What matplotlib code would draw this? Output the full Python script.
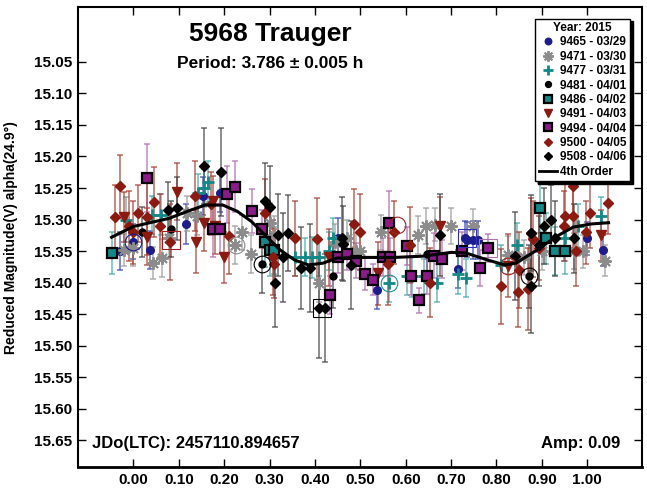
import matplotlib
matplotlib.use("Agg")
import matplotlib.pyplot as plt
from matplotlib.lines import Line2D

plt.rcParams['font.family'] = ['Liberation Sans', 'DejaVu Sans']
plt.rcParams['font.weight'] = 'bold'

# ---------------------------
# data read off the lightcurve
# ---------------------------
s9465_ph = [-0.030, 0.000, 0.037, 0.116, 0.153, 0.190, 0.450, 0.537, 0.715, 0.730, 0.734, 0.748, 0.760, 0.999, 1.035]
s9465_mag = [15.350, 15.335, 15.348, 15.307, 15.262, 15.258, 15.330, 15.411, 15.378, 15.330, 15.332, 15.332, 15.332, 15.330, 15.349]
s9465_err = [0.030, 0.028, 0.030, 0.032, 0.030, 0.030, 0.032, 0.030, 0.030, 0.028, 0.028, 0.030, 0.030, 0.026, 0.024]

s9471_ph = [-0.020, 0.000, 0.043, 0.063, 0.078, 0.118, 0.140, 0.223, 0.240, 0.260, 0.300, 0.310, 0.410, 0.445,
            0.470, 0.490, 0.500, 0.546, 0.627, 0.645, 0.664, 0.700, 0.748, 0.826, 0.860, 0.900, 0.970, 0.990, 1.040]
s9471_mag = [15.348, 15.345, 15.369, 15.361, 15.330, 15.290, 15.295, 15.340, 15.320, 15.355, 15.306, 15.324, 15.400, 15.335,
             15.330, 15.350, 15.350, 15.320, 15.325, 15.310, 15.308, 15.310, 15.310, 15.356, 15.360, 15.350, 15.350, 15.350, 15.365]
s9471_err = [0.025, 0.028, 0.025, 0.030, 0.030, 0.028, 0.030, 0.030, 0.028, 0.030, 0.032, 0.030, 0.030, 0.028,
             0.030, 0.028, 0.030, 0.028, 0.030, 0.028, 0.026, 0.028, 0.026, 0.030, 0.028, 0.030, 0.028, 0.026, 0.024]

s9477_ph = [-0.016, 0.040, 0.060, 0.142, 0.155, 0.165, 0.356, 0.378, 0.393, 0.410, 0.430, 0.440,
            0.564, 0.602, 0.613, 0.640, 0.670, 0.715, 0.733, 0.810, 0.846, 0.950, 0.980, 1.030]
s9477_mag = [15.300, 15.293, 15.292, 15.258, 15.250, 15.240, 15.360, 15.360, 15.360, 15.360, 15.350, 15.330,
             15.400, 15.390, 15.390, 15.390, 15.400, 15.386, 15.392, 15.372, 15.340, 15.330, 15.310, 15.295]
s9477_err = [0.035, 0.030, 0.032, 0.030, 0.030, 0.032, 0.030, 0.030, 0.032, 0.030, 0.030, 0.032,
             0.030, 0.030, 0.032, 0.028, 0.030, 0.032, 0.030, 0.032, 0.034, 0.036, 0.035, 0.030]

s9481_ph = [0.020, 0.083, 0.283, 0.440, 0.646, 0.872]
s9481_mag = [15.320, 15.315, 15.371, 15.390, 15.355, 15.390]
s9481_err = [0.040, 0.045, 0.045, 0.050, 0.045, 0.050]

s9486_ph = [-0.048, 0.290, 0.300, 0.310, 0.896, 0.910, 0.930, 0.950]
s9486_mag = [15.353, 15.335, 15.349, 15.349, 15.282, 15.330, 15.350, 15.350]
s9486_err = [0.034, 0.040, 0.040, 0.038, 0.040, 0.040, 0.038, 0.036]

s9491_ph = [-0.020, 0.030, 0.097, 0.138, 0.155, 0.176, 0.180, 0.200, 0.430, 0.540, 0.675, 0.826, 1.031]
s9491_mag = [15.296, 15.327, 15.256, 15.335, 15.305, 15.271, 15.310, 15.360, 15.360, 15.385, 15.310, 15.373, 15.325]
s9491_err = [0.040, 0.045, 0.045, 0.050, 0.045, 0.040, 0.045, 0.040, 0.045, 0.050, 0.045, 0.050, 0.040]

s9494_ph = [0.030, 0.175, 0.190, 0.206, 0.223, 0.261, 0.283, 0.433, 0.450, 0.470, 0.490, 0.510, 0.527,
            0.550, 0.564, 0.565, 0.602, 0.612, 0.629, 0.648, 0.663, 0.680, 0.723, 0.764, 0.782]
s9494_mag = [15.234, 15.315, 15.315, 15.260, 15.248, 15.286, 15.315, 15.419, 15.360, 15.355, 15.365, 15.386, 15.395,
             15.360, 15.305, 15.360, 15.342, 15.390, 15.428, 15.390, 15.357, 15.363, 15.350, 15.377, 15.345]
s9494_err = [0.054, 0.045, 0.040, 0.045, 0.040, 0.035, 0.030, 0.030, 0.025, 0.025, 0.028, 0.025, 0.025,
             0.030, 0.050, 0.030, 0.030, 0.030, 0.020, 0.028, 0.035, 0.030, 0.030, 0.028, 0.022]

s9500_ph = [-0.040, -0.030, -0.010, 0.000, 0.010, 0.030, 0.046, 0.058, 0.080, 0.136, 0.170, 0.210, 0.290,
            0.308, 0.310, 0.357, 0.404, 0.486, 0.500, 0.560, 0.575, 0.610, 0.654, 0.810, 0.848, 0.850,
            0.869, 0.877, 0.880, 0.893, 0.949, 0.952, 0.968, 0.968, 0.975, 0.998, 1.006, 1.046]
s9500_mag = [15.296, 15.247, 15.310, 15.320, 15.290, 15.296, 15.272, 15.310, 15.335, 15.263, 15.275, 15.326, 15.290,
             15.360, 15.370, 15.330, 15.331, 15.307, 15.320, 15.370, 15.320, 15.340, 15.400, 15.406, 15.415, 15.380,
             15.410, 15.321, 15.331, 15.345, 15.310, 15.295, 15.295, 15.247, 15.350, 15.320, 15.290, 15.273]
s9500_err = [0.050, 0.050, 0.055, 0.050, 0.045, 0.060, 0.055, 0.050, 0.060, 0.055, 0.050, 0.060, 0.055,
             0.060, 0.055, 0.060, 0.065, 0.055, 0.060, 0.065, 0.050, 0.060, 0.055, 0.060, 0.055, 0.060,
             0.065, 0.055, 0.060, 0.050, 0.055, 0.060, 0.050, 0.045, 0.055, 0.050, 0.055, 0.050]

s9508_ph = [0.077, 0.096, 0.156, 0.193, 0.290, 0.300, 0.312, 0.319, 0.330, 0.341, 0.370, 0.390, 0.410,
            0.422, 0.459, 0.462, 0.480, 0.675, 0.840, 0.876, 0.877, 0.893, 0.905, 0.920, 0.930, 0.970]
s9508_mag = [15.285, 15.282, 15.215, 15.225, 15.270, 15.280, 15.400, 15.324, 15.360, 15.321, 15.377, 15.377, 15.440,
             15.440, 15.330, 15.338, 15.372, 15.325, 15.358, 15.405, 15.321, 15.340, 15.310, 15.300, 15.330, 15.330]
s9508_err = [0.045, 0.050, 0.060, 0.070, 0.060, 0.065, 0.070, 0.065, 0.070, 0.060, 0.065, 0.070, 0.080,
             0.085, 0.065, 0.060, 0.070, 0.065, 0.070, 0.075, 0.060, 0.065, 0.060, 0.055, 0.060, 0.055]

# 4th order fourier fit, sampled from the plotted curve
curve_ph = [-0.048, 0.000, 0.079, 0.119, 0.158, 0.197, 0.229, 0.260, 0.292, 0.323, 0.355, 0.386, 0.418, 0.449,
            0.512, 0.575, 0.638, 0.700, 0.733, 0.780, 0.819, 0.843, 0.890, 0.929, 0.969, 1.008, 1.047]
curve_mag = [15.328, 15.311, 15.298, 15.287, 15.277, 15.277, 15.287, 15.303, 15.326, 15.348, 15.364, 15.372, 15.369,
             15.361, 15.360, 15.360, 15.358, 15.352, 15.353, 15.364, 15.372, 15.369, 15.348, 15.328, 15.312, 15.307, 15.305]

# points marked with a hollow circle / square
circ_ph = [0.000, 0.225, 0.283, 0.564, 0.580, 0.826, 0.872]
circ_mag = [15.335, 15.340, 15.371, 15.400, 15.308, 15.373, 15.390]
circ_col = ['#1c1c8c', '#8c8c8c', '#000000', '#1a9090', '#a02020', '#a02020', '#000000']
sq_ph = [0.083, 0.416, 0.735, 0.782]
sq_mag = [15.333, 15.440, 15.330, 15.345]
sq_col = ['#a02020', '#000000', '#3030b0', '#b070b0']

NAVY = '#1c1c8c'
GRAY = '#8c8c8c'
TEAL = '#138888'
MAROON = '#8b1a10'
PURPLE = '#8b1a8b'

sessions = [
    # label, phase, mag, err, marker, face, edge, size, mew, errcolor
    ("9465 - 03/29", s9465_ph, s9465_mag, s9465_err, 'o', NAVY, NAVY, 5.5, 1, '#3040b0'),
    ("9471 - 03/30", s9471_ph, s9471_mag, s9471_err, (8, 2, 0), GRAY, GRAY, 9, 1.4, '#9a9a9a'),
    ("9477 - 03/31", s9477_ph, s9477_mag, s9477_err, '+', TEAL, TEAL, 9, 2, '#40a8a8'),
    ("9481 - 04/01", s9481_ph, s9481_mag, s9481_err, 'o', 'k', 'k', 5, 1, '#404040'),
    ("9486 - 04/02", s9486_ph, s9486_mag, s9486_err, 's', TEAL, 'k', 7, 1.6, '#40a8a8'),
    ("9491 - 04/03", s9491_ph, s9491_mag, s9491_err, 'v', MAROON, MAROON, 7, 1, '#a83a30'),
    ("9494 - 04/04", s9494_ph, s9494_mag, s9494_err, 's', PURPLE, 'k', 7, 1.6, '#b068b0'),
    ("9500 - 04/05", s9500_ph, s9500_mag, s9500_err, 'D', MAROON, MAROON, 5, 1, '#a83a30'),
    ("9508 - 04/06", s9508_ph, s9508_mag, s9508_err, 'D', 'k', 'k', 5, 1, '#404040'),
]

fig = plt.figure(figsize=(6.47, 4.90), dpi=100)
ax = fig.add_axes([0.1206, 0.047, 0.8712, 0.9377])

handles = []
for i, (label, ph, mag, err, mk, fc, ec, ms, mew, errc) in enumerate(sessions):
    ax.errorbar(ph, mag, yerr=err, fmt='none', ecolor=errc, elinewidth=1.2,
                capsize=2.5, capthick=1.2, alpha=0.7, zorder=2 + i * 0.1)
    ax.plot(ph, mag, linestyle='none', marker=mk, markerfacecolor=fc, markeredgecolor=ec,
            markersize=ms, markeredgewidth=mew, color=fc, zorder=4 + i * 0.1)
    handles.append(Line2D([], [], linestyle='none', marker=mk, markerfacecolor=fc, markeredgecolor=ec,
                          markersize=ms * 0.85, markeredgewidth=mew, color=fc, label=label))

for x, y, c in zip(circ_ph, circ_mag, circ_col):
    ax.plot(x, y, marker='o', markersize=12, markerfacecolor='none', markeredgecolor=c,
            markeredgewidth=0.8, linestyle='none', zorder=5)
for x, y, c in zip(sq_ph, sq_mag, sq_col):
    ax.plot(x, y, marker='s', markersize=13, markerfacecolor='none', markeredgecolor=c,
            markeredgewidth=0.8, linestyle='none', zorder=5)

ax.plot(curve_ph, curve_mag, color='k', linewidth=2.2, zorder=6)
handles.append(Line2D([], [], color='k', linewidth=2, label="4th Order"))

ax.set_xlim(-0.122, 1.12)
ax.set_ylim(15.692, 14.964)
ax.set_xticks([i / 10 for i in range(11)])
ax.set_xticklabels([f"{i / 10:.2f}" for i in range(11)])
yt = [15.05 + 0.05 * i for i in range(13)]
ax.set_yticks(yt)
ax.set_yticklabels([f"{v:.2f}" for v in yt])
ax.tick_params(direction='in', length=6, width=1, top=True, right=True, labelsize=11, pad=4)
for lab in ax.get_xticklabels() + ax.get_yticklabels():
    lab.set_fontweight('bold')
for side in ['left', 'top', 'right']:
    ax.spines[side].set_linewidth(1.5)
ax.spines['bottom'].set_linewidth(2)

ax.set_ylabel("Reduced Magnitude(V) alpha(24.9°)", fontsize=10, fontweight='bold')
ax.yaxis.set_label_coords(-0.106, 0.5)

ax.text(0.341, 0.942, "5968 Trauger", transform=ax.transAxes, ha='center', va='center',
        fontsize=19, fontweight='bold')
ax.text(0.341, 0.879, "Period: 3.786 ± 0.005 h", transform=ax.transAxes, ha='center', va='center',
        fontsize=12.5, fontweight='bold')
ax.text(0.025, 0.052, "JDo(LTC): 2457110.894657", transform=ax.transAxes, ha='left', va='center',
        fontsize=12, fontweight='bold')
ax.text(0.9615, 0.052, "Amp: 0.09", transform=ax.transAxes, ha='right', va='center',
        fontsize=12, fontweight='bold')

leg = ax.legend(handles=handles, loc='upper right', bbox_to_anchor=(0.979, 0.976), borderaxespad=0,
                title="Year: 2015", fontsize=8.5, title_fontsize=8.5, fancybox=False,
                shadow={'facecolor': 'k', 'edgecolor': 'k', 'alpha': 1}, framealpha=1,
                edgecolor='k', labelspacing=0.2, handlelength=1.6, handletextpad=0.2,
                borderpad=0.3, prop={'weight': 'bold', 'size': 8.5})
leg.get_title().set_fontweight('bold')
leg.get_frame().set_linewidth(1)

fig.savefig("out.png", dpi=100)
